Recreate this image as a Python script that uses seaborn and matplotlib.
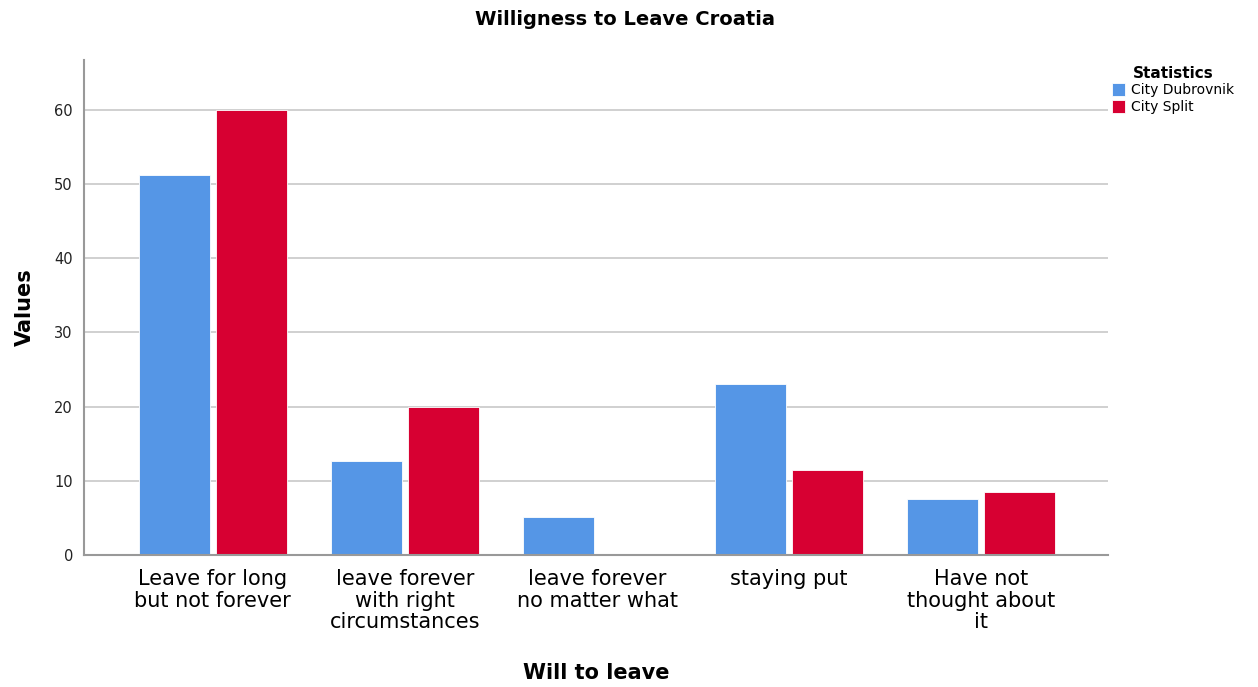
import matplotlib
matplotlib.use("Agg")
import matplotlib.pyplot as plt
import pandas as pd
import seaborn as sns

# Dados
categorias = [
    "Leave for long\nbut not forever",
    "leave forever\nwith right\ncircumstances",
    "leave forever\nno matter what",
    "staying put",
    "Have not\nthought about\nit",
]
dubrovnik = [51.2, 12.7, 5.1, 23.0, 7.6]
split = [60.0, 20.0, 0.0, 11.4, 8.5]
series = ["City Dubrovnik", "City Split"]
cores = ["#5596E6", "#D70032"]

df = pd.DataFrame({
    "categoria": categorias * 2,
    "valor": dubrovnik + split,
    "serie": [series[0]] * len(categorias) + [series[1]] * len(categorias),
})

sns.set_style("white")
plt.rcParams["font.family"] = ["DejaVu Sans"]
plt.rcParams["text.color"] = "black"

fig = plt.figure(figsize=(12.58, 6.87), dpi=100)
ax = fig.add_axes([0.0668, 0.1921, 0.814, 0.7206])

sns.barplot(
    data=df, x="categoria", y="valor", hue="serie",
    palette=cores, width=0.8, gap=0.08, ax=ax,
    edgecolor="white", linewidth=0.6, saturation=1,
)

ax.set_xlim(-0.67, 4.66)
ax.set_ylim(0, 66.7)
ax.set_yticks(range(0, 61, 10))
ax.yaxis.grid(True, color="#c8c8c8", linewidth=1.2)
ax.set_axisbelow(True)
for lado in ["top", "right"]:
    ax.spines[lado].set_visible(False)
for lado in ["left", "bottom"]:
    ax.spines[lado].set_color("#999999")
    ax.spines[lado].set_linewidth(1.5)
ax.tick_params(axis="y", labelsize=10.5, length=0, pad=8, colors="#222222")
ax.tick_params(axis="x", labelsize=15, length=0, pad=10, colors="black")
for t in ax.get_xticklabels():
    t.set_linespacing(1.1)

ax.set_xlabel("Will to leave", fontsize=15, fontweight="bold", labelpad=22,
              color="black")
ax.set_ylabel("Values", fontsize=15, fontweight="bold", labelpad=14,
              color="black")
fig.suptitle("Willigness to Leave Croatia", fontsize=14, fontweight="bold",
             y=0.985, x=0.497, color="black")

leg = ax.legend(
    title="Statistics", loc="upper left", bbox_to_anchor=(0.998, 1.0),
    frameon=False, fontsize=10, title_fontsize=11, handlelength=1.0,
    handleheight=1.0, handletextpad=0.4, borderaxespad=0, labelspacing=0.2,
)
leg.get_title().set_fontweight("bold")

fig.savefig("out.png", dpi=100)
